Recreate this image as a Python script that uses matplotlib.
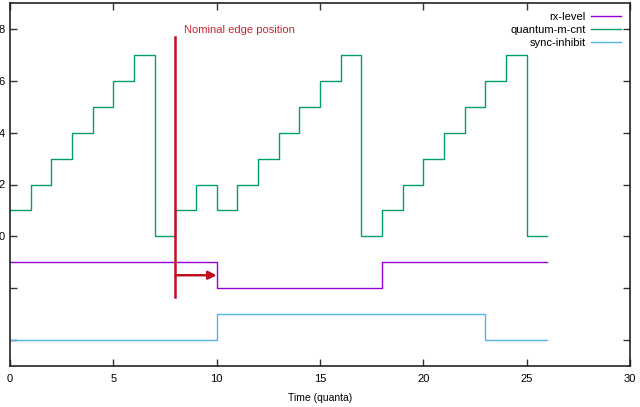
import matplotlib
matplotlib.use('Agg')
import matplotlib.pyplot as plt

plt.rcParams['font.family'] = ['Liberation Sans', 'DejaVu Sans']

# quanta boundaries 0..26
t = list(range(27))

# values per quantum (last one repeated for the step end)
quantum_m_cnt = [1, 2, 3, 4, 5, 6, 7, 0, 1, 2, 1, 2, 3, 4, 5, 6, 7, 0, 1, 2, 3, 4, 5, 6, 7, 0, 0]
rx_level = [-1] * 10 + [-2] * 8 + [-1] * 9
sync_inhibit = [-4] * 10 + [-3] * 13 + [-4] * 4

edge_x = 8
edge_y = (-2.35, 7.7)
arrow_y = -1.5
arrow_to = 10

yticks = [8, 6, 4, 2, 0, -2, -4]
ylabels = ['8', '6', '4', '2', '0', '', '']

fig = plt.figure(figsize=(6.4, 4.07), dpi=100)
ax = fig.add_axes([10 / 640, 41 / 407, 620 / 640, 363 / 407])

ax.step(t, rx_level, where='post', color='#9400d3', lw=1, label='rx-level')
ax.step(t, quantum_m_cnt, where='post', color='#009e73', lw=1, label='quantum-m-cnt')
ax.step(t, sync_inhibit, where='post', color='#56b4e9', lw=1, label='sync-inhibit')

red = '#c0101e'
ax.plot([edge_x, edge_x], edge_y, color=red, lw=1.8)
ax.annotate('', xy=(arrow_to, arrow_y), xytext=(edge_x, arrow_y),
            arrowprops=dict(arrowstyle='-|>', color=red, lw=1.8, mutation_scale=12,
                            shrinkA=0, shrinkB=0))
ax.text(edge_x + 0.4, 7.95, 'Nominal edge position', color='#cc2233', fontsize=8,
        va='center', ha='left')

ax.set_xlim(0, 30)
ax.set_ylim(-5, 9)
ax.set_xticks(range(0, 31, 5))
ax.set_yticks(yticks)
ax.set_yticklabels(ylabels)
ax.tick_params(direction='in', length=5, width=1, top=True, right=True,
               labelsize=8, color='#333333')
ax.tick_params(axis='y', pad=4)
ax.tick_params(axis='x', pad=6)
for s in ax.spines.values():
    s.set_color('#222222')
    s.set_linewidth(1.2)

ax.set_xlabel('Time (quanta)', fontsize=7.5, labelpad=6)

ax.legend(loc='upper right', frameon=False, markerfirst=False, fontsize=8,
          handlelength=2.7, handletextpad=0.45, labelspacing=0.3,
          borderaxespad=0, borderpad=0, bbox_to_anchor=(611 / 620, 1 - 8.5 / 363))

fig.savefig('out.png', dpi=100)
